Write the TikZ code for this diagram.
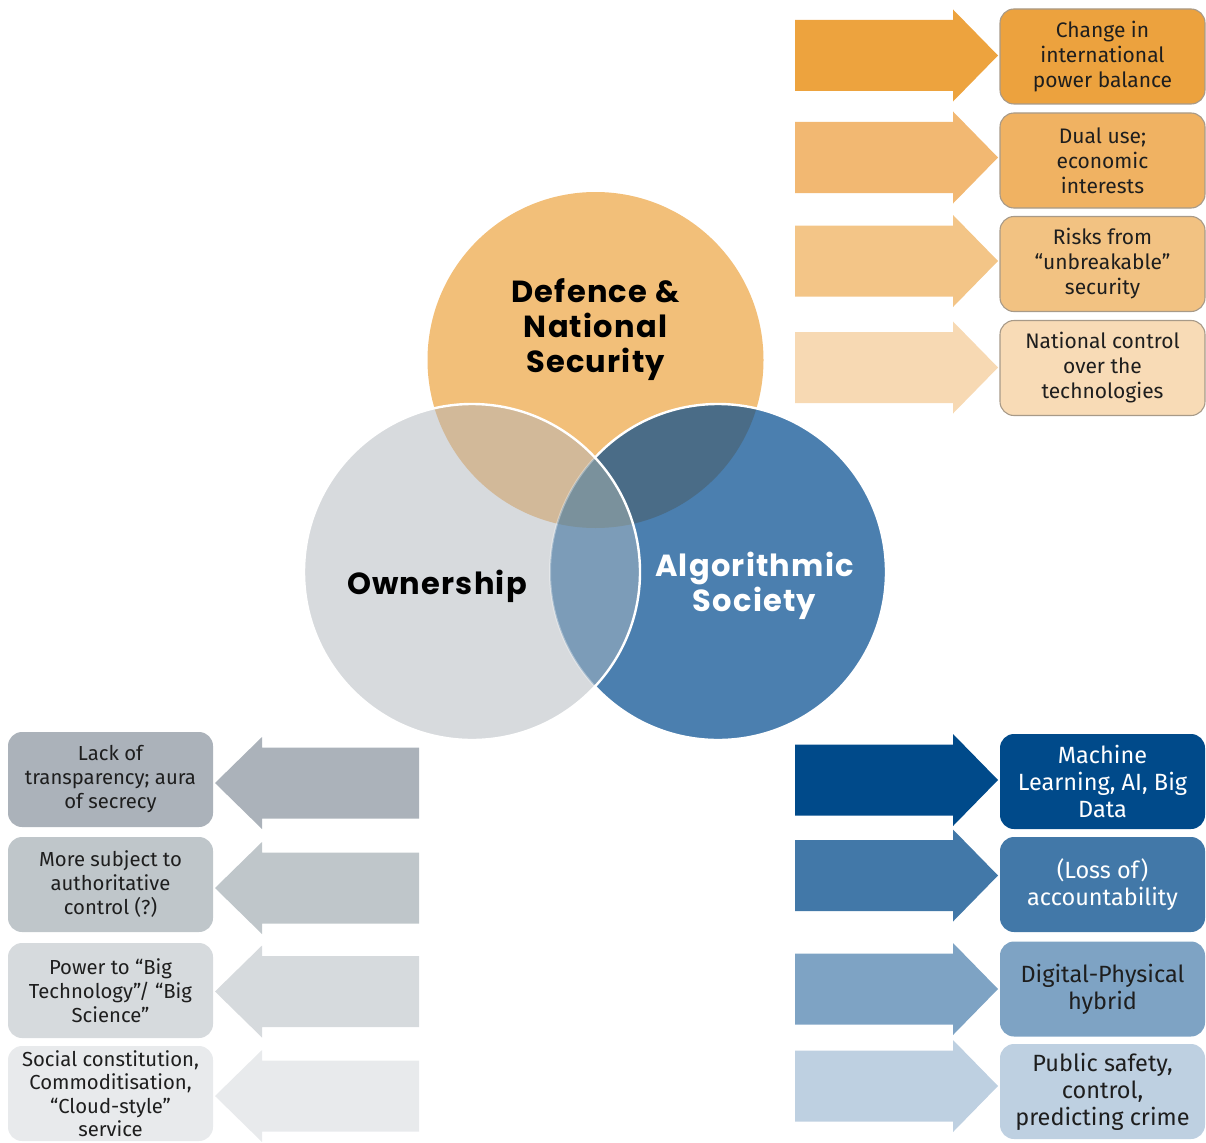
\documentclass[tikz,border=0pt]{standalone}
\usepackage{fontspec}
\setmainfont{Fira Sans}
\newfontfamily\vennfont{Poppins}[LetterSpace=4]
\definecolor{defc}{HTML}{F2BF79}
\definecolor{ownc}{HTML}{D7DADD}
\definecolor{algc}{HTML}{4B7FAF}
\definecolor{dac}{HTML}{4A6C87}
\definecolor{doc}{HTML}{D2B999}
\definecolor{oac}{HTML}{7C9CB8}
\definecolor{trc}{HTML}{7A919C}
\definecolor{oa1}{HTML}{EDA33E}
\definecolor{oa2}{HTML}{F2B872}
\definecolor{oa3}{HTML}{F3C587}
\definecolor{oa4}{HTML}{F7D9B3}
\definecolor{ob1}{HTML}{ECA23E}
\definecolor{ob2}{HTML}{F0B262}
\definecolor{ob3}{HTML}{F2C282}
\definecolor{ob4}{HTML}{F8DBB6}
\definecolor{obd}{HTML}{A89A88}
\definecolor{bl1}{HTML}{004A8A}
\definecolor{bl2}{HTML}{4278A8}
\definecolor{bl3}{HTML}{7EA3C4}
\definecolor{bl4}{HTML}{BED0E1}
\definecolor{gr1}{HTML}{ABB2BA}
\definecolor{gr2}{HTML}{BFC6CA}
\definecolor{gr3}{HTML}{D6DADD}
\definecolor{gr4}{HTML}{E8EAEC}
\definecolor{txt}{HTML}{1E1E1E}
\newcommand\rblock[2]{\fill[#1] (795,{#2-35.5}) -- (953,{#2-35.5}) -- (953,{#2-46}) -- (998,#2) -- (953,{#2+46}) -- (953,{#2+35.5}) -- (795,{#2+35.5}) -- cycle;}
\newcommand\lblock[2]{\fill[#1] (419,{#2-35.5}) -- (262,{#2-35.5}) -- (262,{#2-46}) -- (215,#2) -- (262,{#2+46}) -- (262,{#2+35.5}) -- (419,{#2+35.5}) -- cycle;}
\tikzset{
  venn/.style={align=center, font=\vennfont\bfseries\fontsize{30.5}{35}\selectfont, inner sep=0},
  basebox/.style={rounded corners=14pt, minimum width=205pt, minimum height=95pt, align=center, inner sep=0, text=txt},
  obox/.style={basebox, draw=obd, line width=1.1pt, font=\fontsize{21}{25}\selectfont},
  bbox/.style={basebox, font=\fontsize{23.5}{27}\selectfont},
  gbox/.style={basebox, font=\fontsize{20.3}{24}\selectfont},
}
\begin{document}
\begin{tikzpicture}[x=1pt,y=-1pt]
\useasboundingbox (0,0) rectangle (1206,1142);
% Venn diagram
\fill[defc] (595.5,360) circle[radius=168pt];
\fill[algc] (718,572) circle[radius=168pt];
\begin{scope}
  \clip (595.5,360) circle[radius=168pt];
  \fill[dac] (718,572) circle[radius=168pt];
\end{scope}
\draw[white, line width=2.4pt] (718,572) circle[radius=168pt];
\fill[ownc] (472,572) circle[radius=168pt];
\begin{scope}
  \clip (472,572) circle[radius=168pt];
  \fill[doc] (595.5,360) circle[radius=168pt];
  \fill[oac] (718,572) circle[radius=168pt];
  \clip (595.5,360) circle[radius=168pt];
  \fill[trc] (718,572) circle[radius=168pt];
\end{scope}
\begin{scope}
  \clip (472,572) circle[radius=168pt];
  \draw[white, opacity=0.35, line width=2pt] (718,572) circle[radius=168pt];
\end{scope}
\draw[white, line width=2.4pt] (472,572) circle[radius=168pt];
\node[venn, text=black] (def) at (595.5,329.5) {Defence \&\\National\\Security};
\node[venn, text=black] (own) at (437,586) {Ownership};
\node[venn, text=white] (alg) at (754.5,586) {Algorithmic\\Society};
% orange arrows and boxes
\rblock{oa1}{55.5}
\rblock{oa2}{157.5}
\rblock{oa3}{261}
\rblock{oa4}{367.5}
\node[obox, fill=ob1] (o1) at (1102.5,56.5) {Change in\\international\\power balance};
\node[obox, fill=ob2] (o2) at (1102.5,160.5) {Dual use;\\economic\\interests};
\node[obox, fill=ob3] (o3) at (1102.5,264) {Risks from\\“unbreakable”\\security};
\node[obox, fill=ob4] (o4) at (1102.5,368) {National control\\over the\\technologies};
% blue arrows and boxes
\rblock{bl1}{780}
\rblock{bl2}{875.5}
\rblock{bl3}{989}
\rblock{bl4}{1086}
\node[bbox, fill=bl1, text=white] (b1) at (1102.5,781.5) {Machine\\Learning, AI, Big\\Data};
\node[bbox, fill=bl2, text=white] (b2) at (1102.5,884.5) {(Loss of)\\accountability};
\node[bbox, fill=bl3] (b3) at (1102.5,989) {Digital-Physical\\hybrid};
\node[bbox, fill=bl4] (b4) at (1102.5,1091.5) {Public safety,\\control,\\predicting crime};
% grey arrows and boxes
\lblock{gr1}{783}
\lblock{gr2}{888}
\lblock{gr3}{991.5}
\lblock{gr4}{1096}
\node[gbox, fill=gr1] (g1) at (110.5,779.5) {Lack of\\transparency; aura\\of secrecy};
\node[gbox, fill=gr2] (g2) at (110.5,884.5) {More subject to\\authoritative\\control (?)};
\node[gbox, fill=gr3] (g3) at (110.5,990.5) {Power to “Big\\Technology”/ “Big\\Science”};
\node[gbox, fill=gr4, font=\fontsize{20.3}{23.5}\selectfont] (g4) at (110.5,1093.5) {Social constitution,\\Commoditisation,\\“Cloud-style”\\service};
\end{tikzpicture}
\end{document}
